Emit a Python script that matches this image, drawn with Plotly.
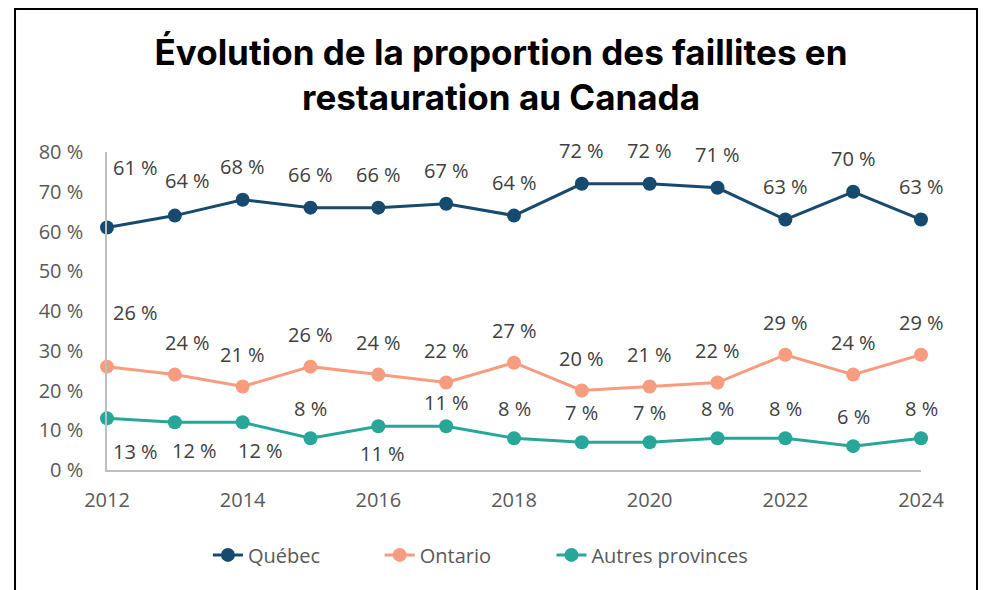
import plotly.graph_objects as go

annees = list(range(2012, 2025))
quebec = [61, 64, 68, 66, 66, 67, 64, 72, 72, 71, 63, 70, 63]
ontario = [26, 24, 21, 26, 24, 22, 27, 20, 21, 22, 29, 24, 29]
autres = [13, 12, 12, 8, 11, 11, 8, 7, 7, 8, 8, 6, 8]

noms = ['Québec', 'Ontario', 'Autres provinces']
couleurs = ['#164A6E', '#F89C7F', '#27A699']

# decalages des etiquettes (pixels), defaut = au-dessus
decal = [
    {2012: (28, 60), 2013: (13, 35)},
    {2012: (28, 54), 2013: (13, 32)},
    {2012: (28, -33), 2013: (20, -28), 2014: (18, -28), 2016: (4, -27), 2017: (0, 24)},
]
decal_defaut = [33, 32, 30]
legendes = ['legend', 'legend2', 'legend3']
leg_x = [0.124, 0.335, 0.546]

police = 'Open Sans, sans-serif'

fig = go.Figure()
annots = []
for i, serie in enumerate([quebec, ontario, autres]):
    fig.add_trace(go.Scatter(x=annees, y=serie, name=noms[i], mode='lines+markers',
                             line=dict(color=couleurs[i], width=3),
                             marker=dict(color=couleurs[i], size=14),
                             cliponaxis=False, legend=legendes[i], showlegend=True))
    for a, v in zip(annees, serie):
        dx, dy = decal[i].get(a, (0, decal_defaut[i]))
        annots.append(dict(x=a, y=v, text=f'{v} %', showarrow=False, xshift=dx, yshift=dy,
                           font=dict(family=police, size=20, color='#404040')))

leg = {}
for nom, x in zip(legendes, leg_x):
    leg[nom] = dict(orientation='h', x=x, xanchor='left', y=-0.267, yanchor='middle',
                    itemwidth=30, font=dict(family=police, size=20, color='#595959'))

fig.update_layout(
    width=986, height=590, showlegend=True,
    margin=dict(l=99, r=73, t=144, b=128, autoexpand=False),
    paper_bgcolor='white', plot_bgcolor='white',
    title=dict(text='Évolution de la proportion des faillites en<br>restauration au Canada',
               x=0.5, xref='container', xanchor='center', y=0.904, yref='container', yanchor='top',
               font=dict(family='Inter, Roboto, sans-serif', size=35, color='black', weight='bold')),
    xaxis=dict(range=[2012, 2024], tickvals=list(range(2012, 2025, 2)), showgrid=False,
               showline=True, linecolor='#BFBFBF', linewidth=1.5, zeroline=False,
               ticks='', ticklabelstandoff=11, automargin=False, tickangle=0,
               tickfont=dict(family=police, size=20, color='#595959')),
    yaxis=dict(range=[0, 80], tickvals=list(range(0, 81, 10)),
               ticktext=[f'{v} %' for v in range(0, 81, 10)], showgrid=False,
               showline=True, linecolor='#BFBFBF', linewidth=1.5, zeroline=False,
               ticks='', ticklabelstandoff=18, automargin=False,
               tickfont=dict(family=police, size=20, color='#595959')),
    annotations=annots,
    shapes=[dict(type='rect', xref='paper', yref='paper', x0=-0.113, x1=1.0688, y0=-0.41, y1=1.4497,
                 line=dict(color='black', width=2), layer='below')],
    **leg,
)

fig.write_html('out.html')
